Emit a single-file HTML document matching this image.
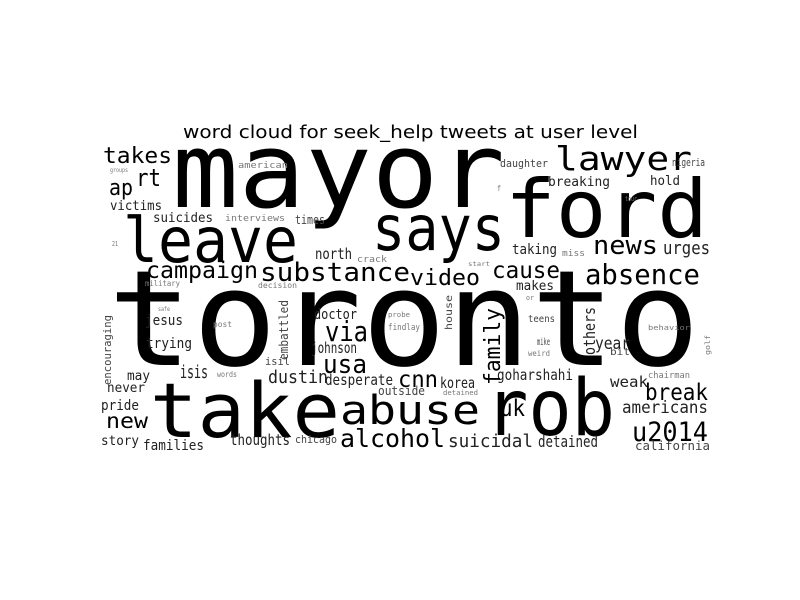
<!DOCTYPE html>
<html><head><meta charset="utf-8"><style>
html,body{margin:0;padding:0;background:#fff;width:800px;height:600px;overflow:hidden}
svg text{font-family:"DejaVu Sans Mono","Liberation Mono",monospace}
</style></head><body>
<svg id="wc" width="800" height="600" viewBox="0 0 800 600" xmlns="http://www.w3.org/2000/svg">
<rect width="800" height="600" fill="#fff"/>
<text x="183" y="138" textLength="455" lengthAdjust="spacingAndGlyphs" style="font-family:'DejaVu Sans','Liberation Sans',sans-serif" font-size="18" fill="#000">word cloud for seek_help tweets at user level</text>
<g id="words"></g>
</svg>
<script>
// word, font size (reflects frequency)
const words = ["mayor","toronto","ford","take","rob","abuse","leave","says","lawyer","takes","rt","ap","victims","american","suicides","interviews","times","21","north","crack","campaign","substance","military","decision","video","cause","absence","news","urges","taking","miss","breaking","daughter","hold","nigeria","f","makes","start","jesus","trying","may","isis","never","pride","new","story","families","thoughts","chicago","doctor","via","johnson","isil","usa","dustin","desperate","post","safe","teens","mike","weird","or","year","bit","behavior","chairman","weak","break","americans","u2014","california","cnn","korea","goharshahi","outside","detained","uk","alcohol","suicidal","detained","probe","findlay","groups","tour","words","encouraging","embattled","house","family","others","golf"];
const sizes = [104,133,80,76,78,40,62,62,33,22,24,22,13,9,13,9,12,7,15,9,23,26,8,8,22,23,28,26,18,14,9,13,11,13,11,8,13,6,14,14,13,18,13,14,21,13,14,15,11,14,28,15,11,26,18,15,8,6,10,10,8,7,17,10,7,9,15,23,17,27,12,23,15,15,12,7,23,25,18,16,7,9,6,7,8,11,12,10,22,16,7];
// layout: x, baseline y, text length, rotation
const xs = [172,108,505,150,485,340,123,372,555,103,136,109,110,238,153,225,295,112,315,357,146,260,145,258,410,492,585,593,663,512,562,548,500,650,672,497,516,468,145,146,127,180,107,101,106,101,143,230,295,314,325,311,265,323,268,325,213,158,528,537,528,526,595,610,648,648,610,645,622,632,635,398,440,497,378,443,500,340,448,538,388,388,110,625,217,111,288,452,500,595,710];
const ys = [207,365,237,437,435,424,262,250,170,163,186,195,210,168,222,221,224,246,259,262,278,281,286,288,285,278,284,254,254,254,256,186,167,185,166,191,290,266,325,348,380,378,392,410,428,445,450,445,443,319,341,353,365,373,383,385,327,311,322,345,356,300,349,355,330,378,387,400,413,441,450,387,388,380,395,395,416,447,447,447,317,330,172,201,377,385,360,330,385,355,355];
const lens = [333,592,203,190,130,140,175,133,137,69,25,24,52,50,60,60,30,6,37,30,112,150,35,39,70,68,115,65,47,45,23,62,48,30,33,4,38,22,38,46,23,28,38,38,42,38,61,60,42,43,43,46,25,44,60,68,19,12,27,13,22,8,35,20,42,42,38,63,86,76,75,40,35,76,47,35,25,105,85,60,22,32,18,12,20,70,60,35,77,48,20];
const rots = {"encouraging":1,"embattled":1,"house":1,"family":1,"others":1,"golf":1};
const g = document.getElementById('words');
const NS = "http://www.w3.org/2000/svg";
words.forEach((w,i)=>{
  const t = document.createElementNS(NS,'text');
  
  
  t.setAttribute('x', xs[i]);
  t.setAttribute('y', ys[i]);
  t.setAttribute('font-size', sizes[i]);
  t.setAttribute('textLength', lens[i]);
  t.setAttribute('lengthAdjust', 'spacingAndGlyphs');
  const s = sizes[i];
  t.setAttribute('fill', s >= 20 ? '#000' : s >= 13 ? '#222' : s >= 10 ? '#444' : '#777');
  if (rots[w] && i >= 85) t.setAttribute('transform', 'rotate(-90 ' + xs[i] + ' ' + ys[i] + ')');
  t.textContent = w;
  g.appendChild(t);
});
</script>
</body></html>
